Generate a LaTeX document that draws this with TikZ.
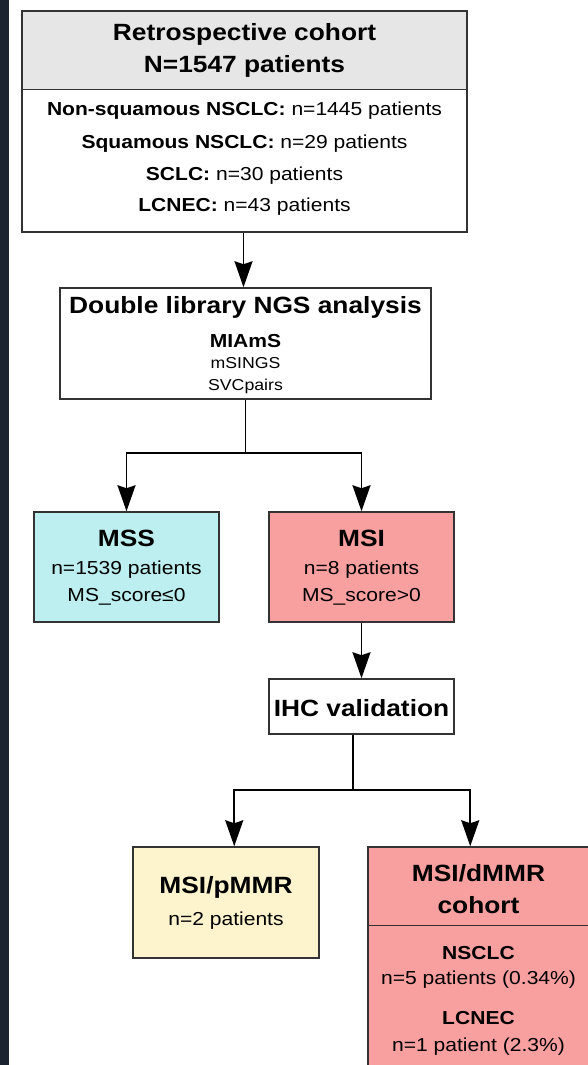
\documentclass[tikz,border=0pt]{standalone}
\usepackage{fontspec}
\setmainfont{Liberation Sans}[FakeStretch=1.12]
\usetikzlibrary{arrows.meta,calc,backgrounds}

\definecolor{stripcol}{HTML}{1B2230}
\definecolor{hdrcol}{HTML}{E6E6E6}
\definecolor{msscol}{HTML}{BDEFF0}
\definecolor{msicol}{HTML}{F8A09F}
\definecolor{pmmrcol}{HTML}{FDF3CC}
\definecolor{edgecol}{HTML}{333333}

\tikzset{
  box/.style={draw=edgecol, line width=1.5pt, rectangle, inner sep=0pt},
  divider/.style={draw=edgecol, line width=1.5pt},
  conn/.style={draw=black, line width=1.8pt},
  arr/.style={conn, -{Stealth[length=26pt,width=18pt,inset=3pt]}},
  big/.style={font=\fontsize{23.5}{28}\selectfont\bfseries, anchor=base, inner sep=0pt},
  txt/.style={font=\fontsize{18.8}{22}\selectfont, anchor=base, inner sep=0pt},
  mid/.style={font=\fontsize{18.8}{22}\selectfont\bfseries, anchor=base, inner sep=0pt},
  small/.style={font=\fontsize{15.8}{18}\selectfont, anchor=base, inner sep=0pt}
}

\begin{document}
\begin{tikzpicture}[x=1pt,y=-1pt]
\useasboundingbox (0,0) rectangle (587,1065);

% dark band along the left edge
\fill[stripcol] (0,0) rectangle (9,1065);

% ---- boxes ----
\node[box, minimum width=445pt, minimum height=221pt] (cohort) at (244.5,121.5) {};
\node[box, minimum width=371pt, minimum height=111pt] (ngs) at (245.5,343.5) {};
\node[box, fill=msscol, minimum width=185pt, minimum height=110pt] (mss) at (126.5,567) {};
\node[box, fill=msicol, minimum width=185pt, minimum height=110pt] (msi) at (361.5,567) {};
\node[box, minimum width=185pt, minimum height=55pt] (ihc) at (361.5,706.5) {};
\node[box, fill=pmmrcol, minimum width=186pt, minimum height=111pt] (pmmr) at (226,902.5) {};
\node[box, fill=msicol, minimum width=221pt, minimum height=228pt] (dmmr) at (478.5,961) {};

% header band of the cohort box
\begin{pgfonlayer}{background}
  \fill[hdrcol] (cohort.north west) rectangle ($(cohort.north east)+(0,79)$);
\end{pgfonlayer}
\draw[divider] ($(cohort.north west)+(0,79)$) -- ($(cohort.north east)+(0,79)$);
\draw[divider] ($(dmmr.north west)+(0,79)$) -- ($(dmmr.north east)+(0,79)$);

% ---- texts ----
\node[big] (t1) at (244.5,40.7) {Retrospective cohort};
\node[big] (t2) at (244.5,72.7) {N=1547 patients};
\node[txt] (c1) at (244.5,115.7) {\textbf{Non-squamous NSCLC:} n=1445 patients};
\node[txt] (c2) at (244.5,148) {\textbf{Squamous NSCLC:} n=29 patients};
\node[txt] (c3) at (244.5,180) {\textbf{SCLC:} n=30 patients};
\node[txt] (c4) at (244.5,211.5) {\textbf{LCNEC:} n=43 patients};

\node[big] (n1) at (245.5,313.3) {Double library NGS analysis};
\node[mid] (n2) at (245.5,347) {MIAmS};
\node[small] (n3) at (245.5,368.5) {mSINGS};
\node[small] (n4) at (245.5,390) {SVCpairs};

\node[big] (s1) at (126.5,546) {MSS};
\node[txt] (s2) at (126.5,574.3) {n=1539 patients};
\node[txt] (s3) at (126.5,601.7) {MS\_score≤0};

\node[big] (m1) at (361.5,546) {MSI};
\node[txt] (m2) at (361.5,574.3) {n=8 patients};
\node[txt] (m3) at (361.5,601.7) {MS\_score>0};

\node[big] (i1) at (361.5,716) {IHC validation};

\node[big] (p1) at (226,893.3) {MSI/pMMR};
\node[txt] (p2) at (226,925.7) {n=2 patients};

\node[big] (d1) at (478.5,881.7) {MSI/dMMR};
\node[big] (d2) at (478.5,913.3) {cohort};
\node[mid] (d3) at (478.5,959.3) {NSCLC};
\node[txt] (d4) at (478.5,984.3) {n=5 patients (0.34\%)};
\node[mid] (d5) at (478.5,1024.3) {LCNEC};
\node[txt] (d6) at (478.5,1051) {n=1 patient (2.3\%)};

% ---- connectors ----
\coordinate (j1) at (245.5,453);
\coordinate (j2) at (353,790);

\draw[arr] ([xshift=-1pt]cohort.south) -- ([xshift=-2pt]ngs.north);
\draw[conn] (ngs.south) -- (j1);
\draw[arr] (j1) -| (mss.north);
\draw[arr] (j1) -| (msi.north);
\draw[arr] (msi.south) -- (ihc.north);
\draw[conn] (ihc.south -| j2) -- (j2);
\draw[arr] (j2) -| ([xshift=102pt]pmmr.north west);
\draw[arr] (j2) -| ([xshift=103pt]dmmr.north west);
\end{tikzpicture}
\end{document}
